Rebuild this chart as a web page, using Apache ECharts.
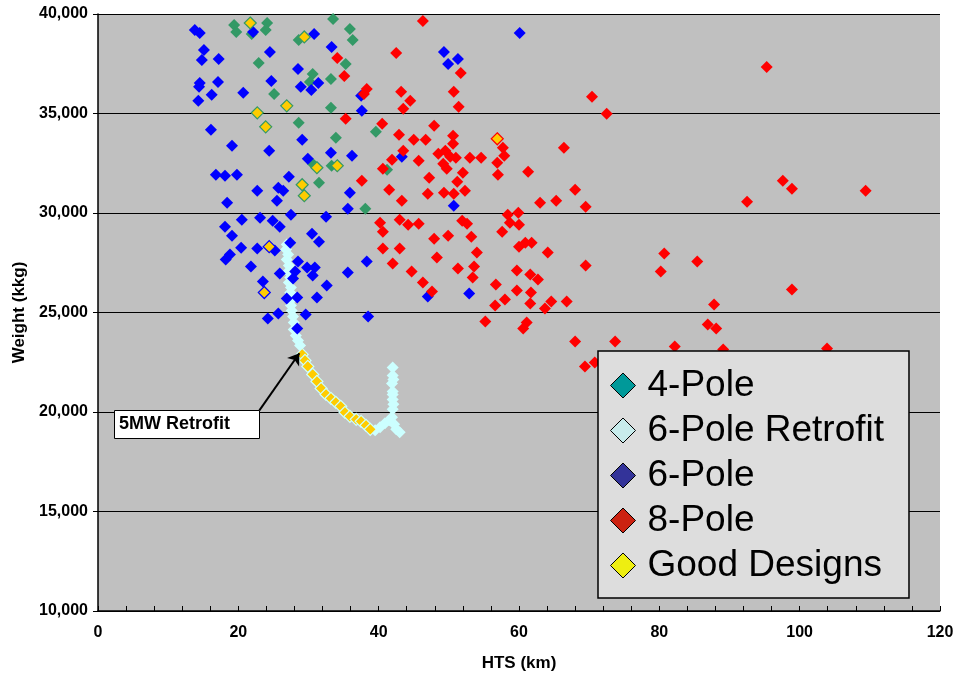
<!DOCTYPE html>
<html>
<head>
<meta charset="utf-8">
<script src="https://cdn.jsdelivr.net/npm/echarts@6/dist/echarts.min.js"></script>
<style>
html, body { margin: 0; padding: 0; background: #fff; }
#chart { width: 960px; height: 677px; }
</style>
</head>
<body>
<div id="chart"></div>
<script>
// axis ranges / tick labels
const xRange = [0, 120, 20];
const yRange = [10000, 40000, 5000];

// [HTS km, weight kkg]
const pole4 = [
  [19.4, 39448], [19.7, 39097], [24.1, 39548], [23.9, 39197], [21.9, 38997], [33.5, 39749],
  [35.9, 39248], [36.3, 38696], [22.9, 37542], [30.6, 36990], [33.2, 36739], [30.2, 36588],
  [35.3, 37492], [25.1, 35986], [33.2, 35284], [28.6, 34531], [33.9, 33779], [39.6, 34080],
  [30.6, 32474], [33.3, 32374], [31.5, 31521], [38.1, 30217], [28.6, 38696], [41.2, 32173]
];

const retrofit = [
  [26.9, 28411], [26.8, 28160], [27.1, 27909], [26.9, 27658], [27.2, 27357], [27.1, 27056],
  [27.4, 26755], [27.2, 26504], [27.5, 26254], [27.4, 26003], [27.6, 25652], [27.5, 25351],
  [27.6, 25100], [27.8, 24799], [27.9, 24498], [27.9, 24147], [28.2, 23846], [28.5, 23595],
  [28.8, 23344],
  [39.5, 19080], [40.2, 19230], [40.9, 19431], [41.5, 19582], [41.9, 19732], [42.0, 20133],
  [42.0, 20634], [42.0, 21035], [41.9, 21437], [42.0, 21838], [42.0, 22239], [42.2, 19381],
  [42.1, 20384], [42.0, 20885], [42.1, 21637], [42.5, 19130], [43.0, 18980]
];

const pole6 = [
  [13.8, 39197], [14.5, 39047], [15.1, 38194], [14.8, 37692], [17.2, 37742], [14.5, 36538],
  [17.1, 36588], [14.4, 36338], [16.2, 35936], [14.3, 35635], [20.7, 36037], [22.1, 39097],
  [24.5, 38094], [24.7, 36639], [28.5, 37241], [28.9, 36338], [30.4, 36187], [31.4, 36538],
  [30.8, 38997], [33.3, 38344], [37.5, 35886], [37.6, 35133], [16.1, 34180], [19.1, 33378],
  [24.4, 33127], [29.1, 33679], [29.9, 32725], [33.2, 33026], [36.2, 32876], [49.3, 38094],
  [49.9, 37492], [51.3, 37742], [60.1, 39047], [43.3, 32826], [16.8, 31922], [18.1, 31872],
  [19.8, 31922], [27.2, 31822], [22.7, 31120], [25.7, 31270], [26.4, 31120], [25.5, 30618],
  [18.4, 30518], [35.9, 31020], [35.6, 30217], [50.7, 30368], [32.5, 29816], [27.5, 29916],
  [23.1, 29766], [20.5, 29665], [24.9, 29615], [25.9, 29314], [18.1, 29314], [19.1, 28862],
  [20.4, 28260], [22.7, 28210], [25.2, 28110], [27.4, 28511], [30.5, 28963], [31.5, 28561],
  [18.8, 27909], [18.2, 27658], [21.8, 27307], [28.5, 27558], [29.8, 27257], [30.9, 27257],
  [30.6, 26855], [25.9, 26956], [28.1, 27056], [27.8, 26705], [23.5, 26554], [32.6, 26354],
  [38.3, 27558], [35.6, 27006], [26.9, 25702], [28.4, 25752], [31.2, 25752], [25.7, 24949],
  [24.2, 24699], [29.6, 24899], [28.4, 24197], [38.5, 24799], [47.0, 25802], [52.9, 25952]
];

const pole8 = [
  [46.3, 39649], [42.5, 38043], [34.1, 37793], [35.1, 36889], [51.7, 37040], [38.3, 36237],
  [37.9, 35986], [43.2, 36087], [44.5, 35635], [43.5, 35234], [50.7, 36087], [51.4, 35334],
  [70.4, 35836], [72.5, 34983], [95.3, 37341], [35.3, 34732], [40.5, 34481], [47.9, 34381],
  [42.9, 33929], [45.0, 33679], [46.7, 33679], [50.6, 33879], [50.6, 33478], [43.5, 33127],
  [48.5, 32976], [49.5, 33127], [50.2, 32826], [51.0, 32776], [41.9, 32675], [45.7, 32625],
  [53.0, 32776], [54.6, 32776], [57.7, 33277], [57.9, 32876], [56.9, 32525], [57.0, 31922],
  [66.4, 33277], [49.2, 32474], [49.7, 32224], [40.6, 32224], [52.0, 32023], [47.2, 31772],
  [51.2, 31571], [37.6, 31622], [41.5, 31170], [47.0, 30969], [49.3, 31020], [50.7, 30969],
  [52.3, 31120], [61.3, 32073], [43.3, 30618], [63.0, 30518], [65.3, 30618], [68.0, 31170],
  [69.5, 30317], [58.4, 29916], [59.9, 30017], [58.7, 29515], [60.0, 29414], [40.2, 29515],
  [40.6, 29063], [43.0, 29665], [44.2, 29414], [45.7, 29465], [51.9, 29615], [52.6, 29465],
  [53.2, 28812], [47.9, 28712], [49.9, 28862], [57.6, 29063], [40.6, 28210], [43.0, 28210],
  [54.0, 28009], [60.0, 28310], [60.9, 28511], [61.8, 28511], [64.1, 28009], [48.3, 27759],
  [42.0, 27458], [44.7, 27056], [51.3, 27207], [53.6, 27307], [53.4, 26755], [59.7, 27106],
  [61.6, 26906], [62.7, 26655], [69.5, 27357], [46.3, 26504], [47.6, 26053], [56.7, 26404],
  [59.7, 26103], [61.7, 26003], [61.6, 25451], [58.0, 25652], [56.6, 25351], [64.6, 25551],
  [63.7, 25200], [66.8, 25551], [55.2, 24548], [61.1, 24498], [60.6, 24197], [68.0, 23544],
  [73.7, 23544], [69.4, 22289], [70.8, 22490], [92.5, 30568], [97.6, 31622], [98.9, 31220],
  [109.4, 31120], [80.7, 27959], [80.2, 27056], [85.4, 27558], [98.9, 26153], [87.8, 25401],
  [86.9, 24398], [88.1, 24197], [82.2, 23293], [89.1, 23143], [103.9, 23193]
];

// good designs, split by the family they belong to
const good4Pole = [
  [21.7, 39548], [29.4, 38846], [22.7, 35033], [26.9, 35384], [23.9, 34331],
  [31.2, 32274], [34.1, 32374], [29.1, 31421], [29.4, 30869]
];
const good6Pole = [[24.4, 28310], [23.7, 26003]];
const good8Pole = [[56.9, 33729]];
const goodRetrofit = [
  [29.1, 22892], [29.5, 22591], [29.9, 22289], [30.6, 21888], [31.2, 21537], [31.8, 21186],
  [32.5, 20885], [33.2, 20685], [33.9, 20484], [34.6, 20283], [35.2, 19982], [35.9, 19782],
  [36.8, 19632], [37.5, 19531], [38.2, 19331], [38.8, 19130]
];

const axisFont = "'Liberation Sans Narrow', 'Liberation Sans', Arial, sans-serif";
const SIZE = 12;

function pts(name, data, color, border, bw) {
  return {
    name: name,
    type: 'scatter',
    symbol: 'diamond',
    symbolSize: SIZE,
    data: data,
    itemStyle: { color: color, borderColor: border || color, borderWidth: bw || 0, opacity: 1 },
    emphasis: { disabled: true }
  };
}

const chart = echarts.init(document.getElementById('chart'));

const retroSeries = pts('6-Pole Retrofit', retrofit, '#ccffff');
retroSeries.markLine = {
  silent: true,
  symbol: ['none', 'arrow'],
  symbolSize: 11,
  label: { show: false },
  lineStyle: { color: '#000', width: 2, type: 'solid' },
  data: [[{ coord: [23.0, 20080] }, { coord: [28.7, 22950] }]]
};

chart.setOption({
  animation: false,
  backgroundColor: '#fff',
  grid: {
    left: 98, right: 20, top: 14, bottom: 65,
    show: true, backgroundColor: '#c0c0c0', borderWidth: 0
  },
  legend: {
    orient: 'vertical',
    left: 598, top: 351,
    backgroundColor: '#dddddd',
    borderColor: '#000', borderWidth: 1.5,
    padding: [16, 25, 14, 12],
    itemGap: 8,
    itemWidth: 25, itemHeight: 25,
    textStyle: { fontSize: 37, fontFamily: "'Liberation Sans', Arial, sans-serif", color: '#000', padding: [0, 0, 0, 7] },
    data: [
      { name: '4-Pole', icon: 'diamond', itemStyle: { color: '#009999', borderColor: '#000', borderWidth: 1 } },
      { name: '6-Pole Retrofit', icon: 'diamond', itemStyle: { color: '#c8ecec', borderColor: '#000', borderWidth: 1 } },
      { name: '6-Pole', icon: 'diamond', itemStyle: { color: '#333399', borderColor: '#000', borderWidth: 1 } },
      { name: '8-Pole', icon: 'diamond', itemStyle: { color: '#cc2211', borderColor: '#000', borderWidth: 1 } },
      { name: 'Good Designs', icon: 'diamond', itemStyle: { color: '#eeee11', borderColor: '#000', borderWidth: 1 } }
    ]
  },
  xAxis: {
    type: 'value',
    min: xRange[0], max: xRange[1], interval: xRange[2],
    axisLine: { show: true, onZero: false, lineStyle: { color: '#000', width: 1.5 } },
    axisTick: { show: true, inside: true, length: 5, lineStyle: { color: '#000' } },
    minorTick: { show: true, splitNumber: 5, length: 5, lineStyle: { color: '#000' } },
    splitLine: { show: false },
    axisLabel: { fontSize: 16, fontWeight: 'bold', fontFamily: axisFont, color: '#000', margin: 14 },
    name: 'HTS (km)',
    nameLocation: 'middle',
    nameGap: 44,
    nameTextStyle: { fontSize: 17, fontWeight: 'bold', fontFamily: axisFont, color: '#000' }
  },
  yAxis: {
    type: 'value',
    min: yRange[0], max: yRange[1], interval: yRange[2],
    axisLine: { show: true, onZero: false, lineStyle: { color: '#000', width: 1.5 } },
    axisTick: { show: true, length: 5, lineStyle: { color: '#000' } },
    splitLine: { show: true, lineStyle: { color: '#000', width: 1 } },
    axisLabel: {
      fontSize: 16, fontWeight: 'bold', fontFamily: axisFont, color: '#000', margin: 10,
      formatter: v => v.toLocaleString('en-US')
    },
    name: 'Weight (kkg)',
    nameLocation: 'middle',
    nameRotate: 90,
    nameGap: 70,
    nameTextStyle: { fontSize: 17, fontWeight: 'bold', fontFamily: axisFont, color: '#000' }
  },
  series: [
    retroSeries,
    pts('4-Pole', pole4, '#339966'),
    pts('6-Pole', pole6, '#0000ff'),
    pts('8-Pole', pole8, '#ff0000'),
    pts('Good Designs', good4Pole, '#ffcc00', '#339966', 1.2),
    pts('Good Designs', good6Pole, '#ffcc00', '#0000ff', 1.2),
    pts('Good Designs', good8Pole, '#ffcc00', '#ff0000', 1.2),
    pts('Good Designs', goodRetrofit, '#ffcc00', '#ccffff', 1.2)
  ],
  graphic: [
    {
      type: 'rect', left: 114, top: 410, z: 100,
      shape: { width: 145, height: 28 },
      style: { fill: '#fff', stroke: '#000', lineWidth: 1 }
    },
    {
      type: 'text', left: 119, top: 415, z: 101,
      style: { text: '5MW Retrofit', font: "bold 18px 'Liberation Sans', Arial, sans-serif", fill: '#000' }
    }
  ]
});
</script>
</body>
</html>
